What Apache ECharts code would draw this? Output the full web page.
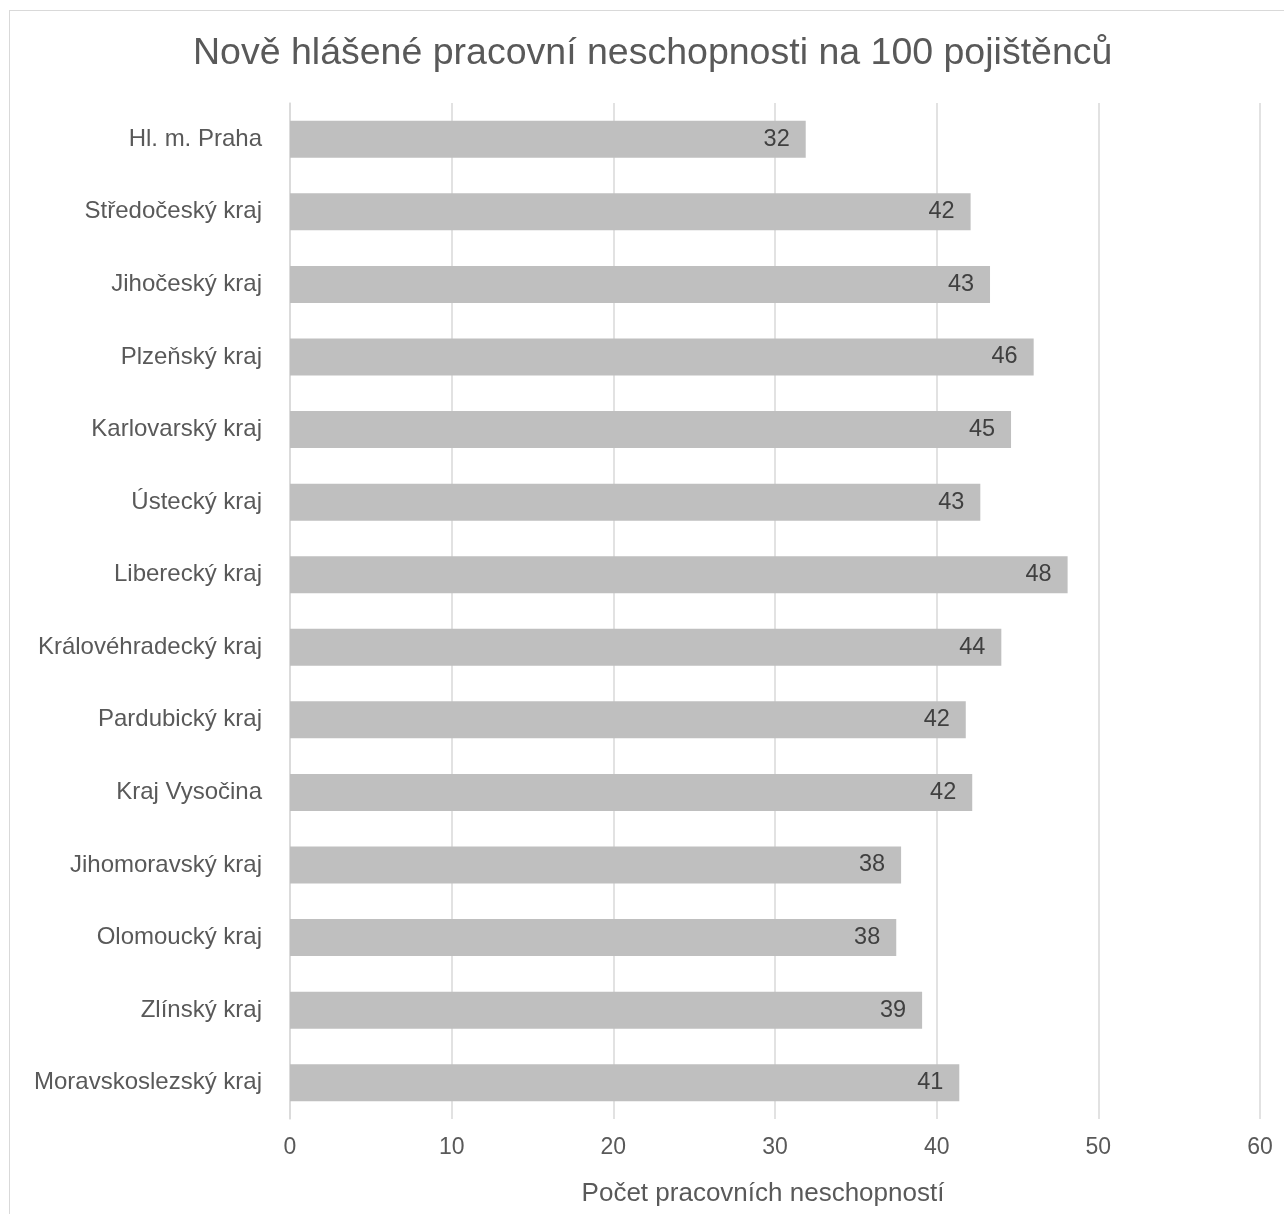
<!DOCTYPE html>
<html><head><meta charset="utf-8">
<script src="https://cdn.jsdelivr.net/npm/echarts@6/dist/echarts.min.js"></script>
<style>
html,body{margin:0;padding:0;background:#fff;overflow:hidden}
#frame{position:absolute;left:9px;top:10px;width:1400px;height:1400px;border:1.5px solid #d9d9d9;box-sizing:border-box}
#c{position:absolute;left:0;top:0;width:1284px;height:1214px}
</style></head>
<body><div id="frame"></div><div id="c"></div>
<script>
const categories = ["Hl. m. Praha","Středočeský kraj","Jihočeský kraj","Plzeňský kraj","Karlovarský kraj","Ústecký kraj","Liberecký kraj","Královéhradecký kraj","Pardubický kraj","Kraj Vysočina","Jihomoravský kraj","Olomoucký kraj","Zlínský kraj","Moravskoslezský kraj"];
const values = [31.9, 42.1, 43.3, 46.0, 44.6, 42.7, 48.1, 44.0, 41.8, 42.2, 37.8, 37.5, 39.1, 41.4];
const xTicks = [0,10,20,30,40,50,60];
const title = "Nově hlášené pracovní neschopnosti na 100 pojištěnců";
const xName = "Počet pracovních neschopností";

const chart = echarts.init(document.getElementById('c'), null, {renderer:'canvas'});
const font = "'Liberation Sans', Arial, sans-serif";
chart.setOption({
  animation:false,
  textStyle:{fontFamily:font},
  title:{text:title,left:188,top:30,textStyle:{fontFamily:font,fontSize:37.5,fontWeight:'normal',color:'#595959'}},
  grid:{left:290,right:24,top:103,bottom:95,containLabel:false},
  xAxis:{type:'value',min:0,max:60,interval:10,
    name:xName,nameLocation:'middle',nameGap:62,
    nameTextStyle:{fontFamily:font,fontSize:26,color:'#595959',padding:[0,24,0,0]},
    axisLine:{show:false},axisTick:{show:false},
    axisLabel:{fontFamily:font,fontSize:23,color:'#595959',margin:17,
      formatter:v=>xTicks.includes(v)?String(v):''},
    splitLine:{show:true,lineStyle:{color:'#d9d9d9',width:1.5}}
  },
  yAxis:{type:'category',data:categories,inverse:true,
    axisLine:{show:true,lineStyle:{color:'#d9d9d9',width:1.5}},axisTick:{show:false},
    axisLabel:{fontFamily:font,fontSize:24,color:'#595959',margin:28}
  },
  series:[{type:'bar',data:values,barWidth:'51%',
    itemStyle:{color:'#bfbfbf'},
    label:{show:true,position:'insideRight',distance:16,fontFamily:font,fontSize:23.5,color:'#404040',
      formatter:p=>Math.round(p.value)}
  }]
});
</script></body></html>
